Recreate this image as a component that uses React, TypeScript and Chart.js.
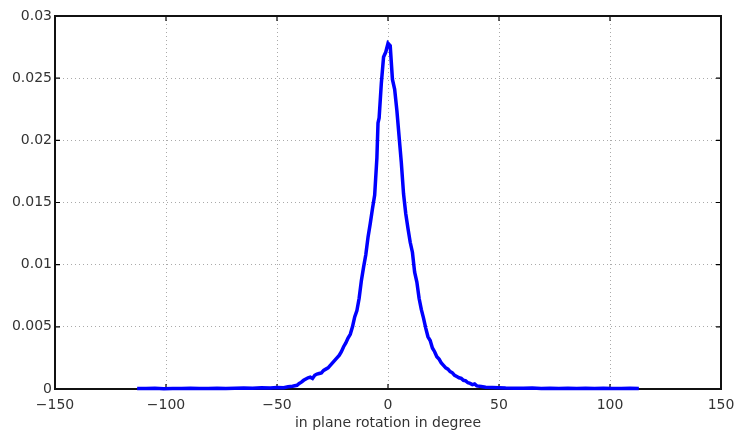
import React, { useEffect, useRef } from "react";
import { Chart, registerables } from "chart.js";

Chart.register(...registerables);

const xTickValues = [-150, -100, -50, 0, 50, 100, 150];
const yTickValues = [0, 0.005, 0.01, 0.015, 0.02, 0.025, 0.03];
const xAxisTitle = "in plane rotation in degree";

const angles = [
  -113, -109, -105, -101, -97, -93, -89, -85, -81, -77, -73, -69, -65, -61, -57, -53, -50, -47, -45,
  -43, -41, -40, -39, -38, -37, -36, -35, -34, -33, -32, -31, -30, -29, -28, -27, -26, -25, -24, -23,
  -22, -21, -20, -19, -18, -17, -16, -15, -14, -13, -12, -11, -10, -9, -8, -7, -6, -5, -4.5, -4, -3,
  -2, -1, 0, 1, 2, 3, 4, 5, 6, 7, 8, 9, 10, 11, 12, 13, 14, 15, 16, 17, 18, 19, 20, 21, 22, 23, 24,
  25, 26, 27, 28, 29, 30, 31, 32, 33, 34, 35, 36, 37, 38, 39, 40, 42, 44, 47, 50, 53, 57, 61, 65, 69,
  73, 77, 81, 85, 89, 93, 97, 101, 105, 109, 113,
];

const density = [
  0.00005, 0.00004, 0.00006, 0.00003, 0.00005, 0.00004, 0.00006, 0.00005, 0.00004, 0.00007, 0.00005,
  0.00006, 0.00008, 0.00006, 0.0001, 0.00008, 0.00012, 0.0001, 0.00018,
  0.00022, 0.0003, 0.00045, 0.00055, 0.0007, 0.0008, 0.0009, 0.00095, 0.00085, 0.0011, 0.0012,
  0.00125, 0.0013, 0.0015, 0.0016, 0.0017, 0.0019, 0.0021, 0.0023, 0.0025, 0.0027, 0.003, 0.0034,
  0.0037, 0.0041, 0.0044, 0.005, 0.0058, 0.0063, 0.0073, 0.0087, 0.0098, 0.0108, 0.0122, 0.0133,
  0.0145, 0.0156, 0.0186, 0.0214, 0.0218, 0.0246, 0.0267, 0.0271, 0.0278, 0.0276, 0.0249, 0.0241,
  0.0224, 0.0203, 0.0182, 0.0157, 0.0141, 0.0129, 0.0118, 0.011, 0.0094, 0.0086, 0.0073, 0.0064,
  0.0057, 0.0049, 0.0042, 0.0039, 0.0033, 0.003, 0.0026, 0.0024, 0.0021, 0.0019, 0.0017, 0.0016,
  0.0014, 0.0013, 0.0011, 0.001, 0.0009, 0.00085, 0.0007, 0.00065, 0.0005, 0.00045, 0.00035, 0.0004,
  0.00025, 0.0002, 0.00015, 0.00012, 0.0001, 0.00008, 0.00007, 0.00006, 0.00008, 0.00005, 0.00006,
  0.00004, 0.00007, 0.00005, 0.00006, 0.00004, 0.00006, 0.00005, 0.00004, 0.00006, 0.00005,
];

const FONT = "'DejaVu Sans', Verdana, sans-serif";
const TEXT = "#333333";

const frame = {
  id: "matlabFrame",
  beforeDatasetsDraw(chart: any) {
    const { ctx, chartArea } = chart;
    const { left, right, top, bottom } = chartArea;
    const xs = chart.scales.x;
    const ys = chart.scales.y;
    ctx.save();
    ctx.strokeStyle = "#000";
    ctx.lineWidth = 1.2;
    const t = 5;
    ctx.beginPath();
    xTickValues.forEach((v) => {
      const px = xs.getPixelForValue(v);
      ctx.moveTo(px, bottom);
      ctx.lineTo(px, bottom - t);
      ctx.moveTo(px, top);
      ctx.lineTo(px, top + t);
    });
    yTickValues.forEach((v) => {
      const py = ys.getPixelForValue(v);
      ctx.moveTo(left, py);
      ctx.lineTo(left + t, py);
      ctx.moveTo(right, py);
      ctx.lineTo(right - t, py);
    });
    ctx.stroke();
    ctx.lineWidth = 2;
    ctx.strokeStyle = "#111";
    ctx.strokeRect(left, top, right - left, bottom - top);
    ctx.restore();
  },
};

export default function App() {
  const ref = useRef<HTMLCanvasElement | null>(null);
  useEffect(() => {
    document.body.style.margin = "0";
    const points = angles.map((a, i) => ({ x: a, y: density[i] }));
    const chart = new Chart(ref.current as HTMLCanvasElement, {
      type: "line",
      data: {
        datasets: [
          {
            data: points,
            borderColor: "#0000ff",
            borderWidth: 3.5,
            pointRadius: 0,
            tension: 0,
            fill: false,
            clip: 4,
          },
        ],
      },
      options: {
        animation: false,
        responsive: false,
        devicePixelRatio: 1,
        layout: { padding: { top: 16, right: 15, left: 0, bottom: 0 } },
        plugins: { legend: { display: false }, tooltip: { enabled: false } },
        scales: {
          x: {
            type: "linear",
            min: -150,
            max: 150,
            afterBuildTicks: (s: any) => {
              s.ticks = xTickValues.map((v) => ({ value: v }));
            },
            afterFit: (s: any) => {
              s.height = 46;
              s.paddingLeft = 0;
              s.paddingRight = 0;
            },
            grid: { color: "#aaaaaa", lineWidth: 1, drawTicks: false },
            border: { display: false, dash: [1, 3] },
            ticks: {
              color: TEXT,
              font: { family: FONT, size: 14 },
              padding: 8,
              maxRotation: 0,
              callback: (v: any) => String(v).replace("-", "\u2212"),
            },
            title: {
              display: true,
              text: xAxisTitle,
              color: TEXT,
              font: { family: FONT, size: 14 },
              padding: { top: 0, bottom: 3 },
            },
          },
          y: {
            type: "linear",
            min: 0,
            max: 0.03,
            afterBuildTicks: (s: any) => {
              s.ticks = yTickValues.map((v) => ({ value: v }));
            },
            afterFit: (s: any) => {
              s.width = 55;
              s.paddingTop = 0;
              s.paddingBottom = 0;
            },
            grid: { color: "#aaaaaa", lineWidth: 1, drawTicks: false },
            border: { display: false, dash: [1, 3] },
            ticks: {
              color: TEXT,
              font: { family: FONT, size: 14 },
              padding: 3,
              callback: (v: any) => String(Number(v.toFixed(3))),
            },
          },
        },
      },
      plugins: [frame],
    });
    return () => chart.destroy();
  }, []);
  return (
    <div style={{ width: 736, height: 435, background: "#fff" }}>
      <canvas ref={ref} width={736} height={435} />
    </div>
  );
}
